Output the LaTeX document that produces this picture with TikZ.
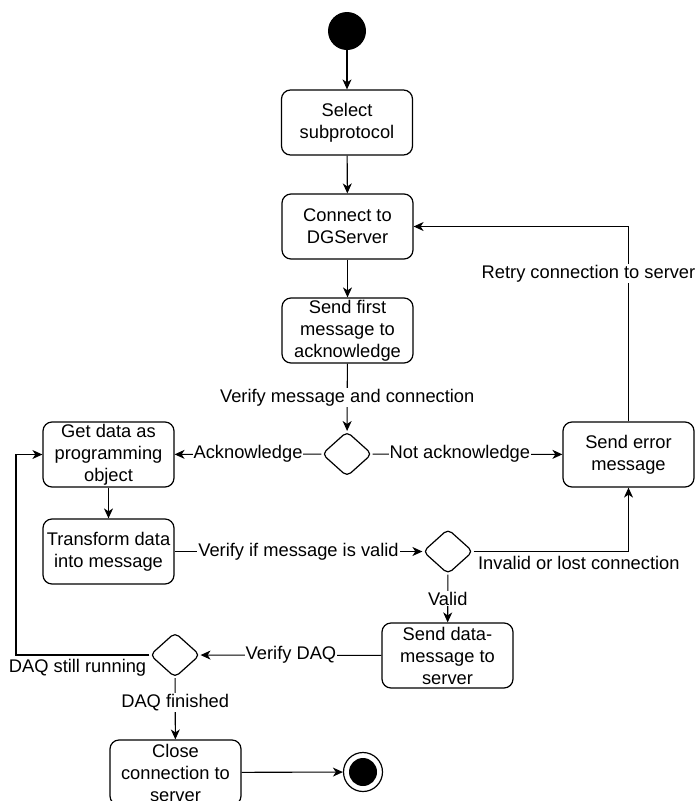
\documentclass[tikz,border=0pt]{standalone}
\usepackage{fontspec}
\setmainfont{Liberation Sans}
\usetikzlibrary{arrows.meta,shapes.geometric}
\begin{document}
\begin{tikzpicture}[x=1pt,y=-1pt,
  every node/.style={font=\fontsize{18.3}{22}\selectfont},
  act/.style={draw,rounded corners=9pt,line width=1.2pt,minimum width=131pt,minimum height=65pt,align=center,inner sep=1pt},
  dec/.style={draw,diamond,rounded corners=5pt,line width=1.2pt,minimum width=50pt,minimum height=45pt,inner sep=0pt},
  lbl/.style={fill=white,inner sep=1pt},
  flow/.style={line width=1.1pt,-{Stealth[length=10pt,width=9pt,inset=3pt]}}
]
\useasboundingbox (0,0) rectangle (697,801);
\node[circle,fill=black,minimum size=38pt,inner sep=0pt] (start) at (347,31) {};
\node[act] (sel) at (347,122.5) {Select\\subprotocol};
\node[act] (conn) at (347.5,226.5) {Connect to\\DGServer};
\node[act] (first) at (347.5,330.5) {Send first\\message to\\acknowledge};
\node[dec] (d1) at (347,454) {};
\node[act] (err) at (628.5,454.5) {Send error\\message};
\node[act] (get) at (108.5,454.5) {Get data as\\programming\\object};
\node[act] (trans) at (108.5,551.5) {Transform data\\into message};
\node[dec] (d2) at (448,551.5) {};
\node[act] (send) at (447.5,655.5) {Send data-\\message to\\server};
\node[dec] (d3) at (175,655) {};
\node[act] (close) at (175.5,772.5) {Close\\connection to\\server};
\node[circle,draw,line width=1.2pt,minimum size=39pt,inner sep=0pt] (end) at (363,772) {};
\node[circle,fill=black,minimum size=28pt,inner sep=0pt] (endin) at (363,772) {};
\coordinate (loop) at (16,655);

\draw[flow] (start) -- (sel);
\draw[flow] (sel) -- (conn);
\draw[flow] (conn) -- (first);
\draw[flow] (first) -- node[lbl] {Verify message and connection} (d1);
\draw[flow] (d1) -- node[lbl] {Acknowledge} (get);
\draw[flow] (d1) -- node[lbl,pos=0.46] {Not acknowledge} (err);
\draw[flow] (err.north) |- node[lbl,pos=0.38,xshift=-40pt] {Retry connection to server} (conn.east);
\draw[flow] (get) -- (trans);
\draw[flow] (trans) -- node[lbl] {Verify if message is valid} (d2);
\draw[flow] (d2.east) -| node[pos=0,anchor=north west,inner sep=1pt,xshift=3pt,yshift=-3pt] {Invalid or lost connection} (err.south);
\draw[flow] (d2) -- node[lbl] {Valid} (send);
\draw[flow] (send) -- node[lbl] {Verify DAQ} (d3);
\draw[flow] (d3.west) -- (loop) |- (get.west);
\node[anchor=north east,inner sep=1pt] (still) at ([xshift=-2pt,yshift=-3pt]d3.west) {DAQ still running};
\draw[flow] (d3) -- node[lbl,pos=0.4] {DAQ finished} (close);
\draw[flow] (close) -- (end);
\end{tikzpicture}
\end{document}
